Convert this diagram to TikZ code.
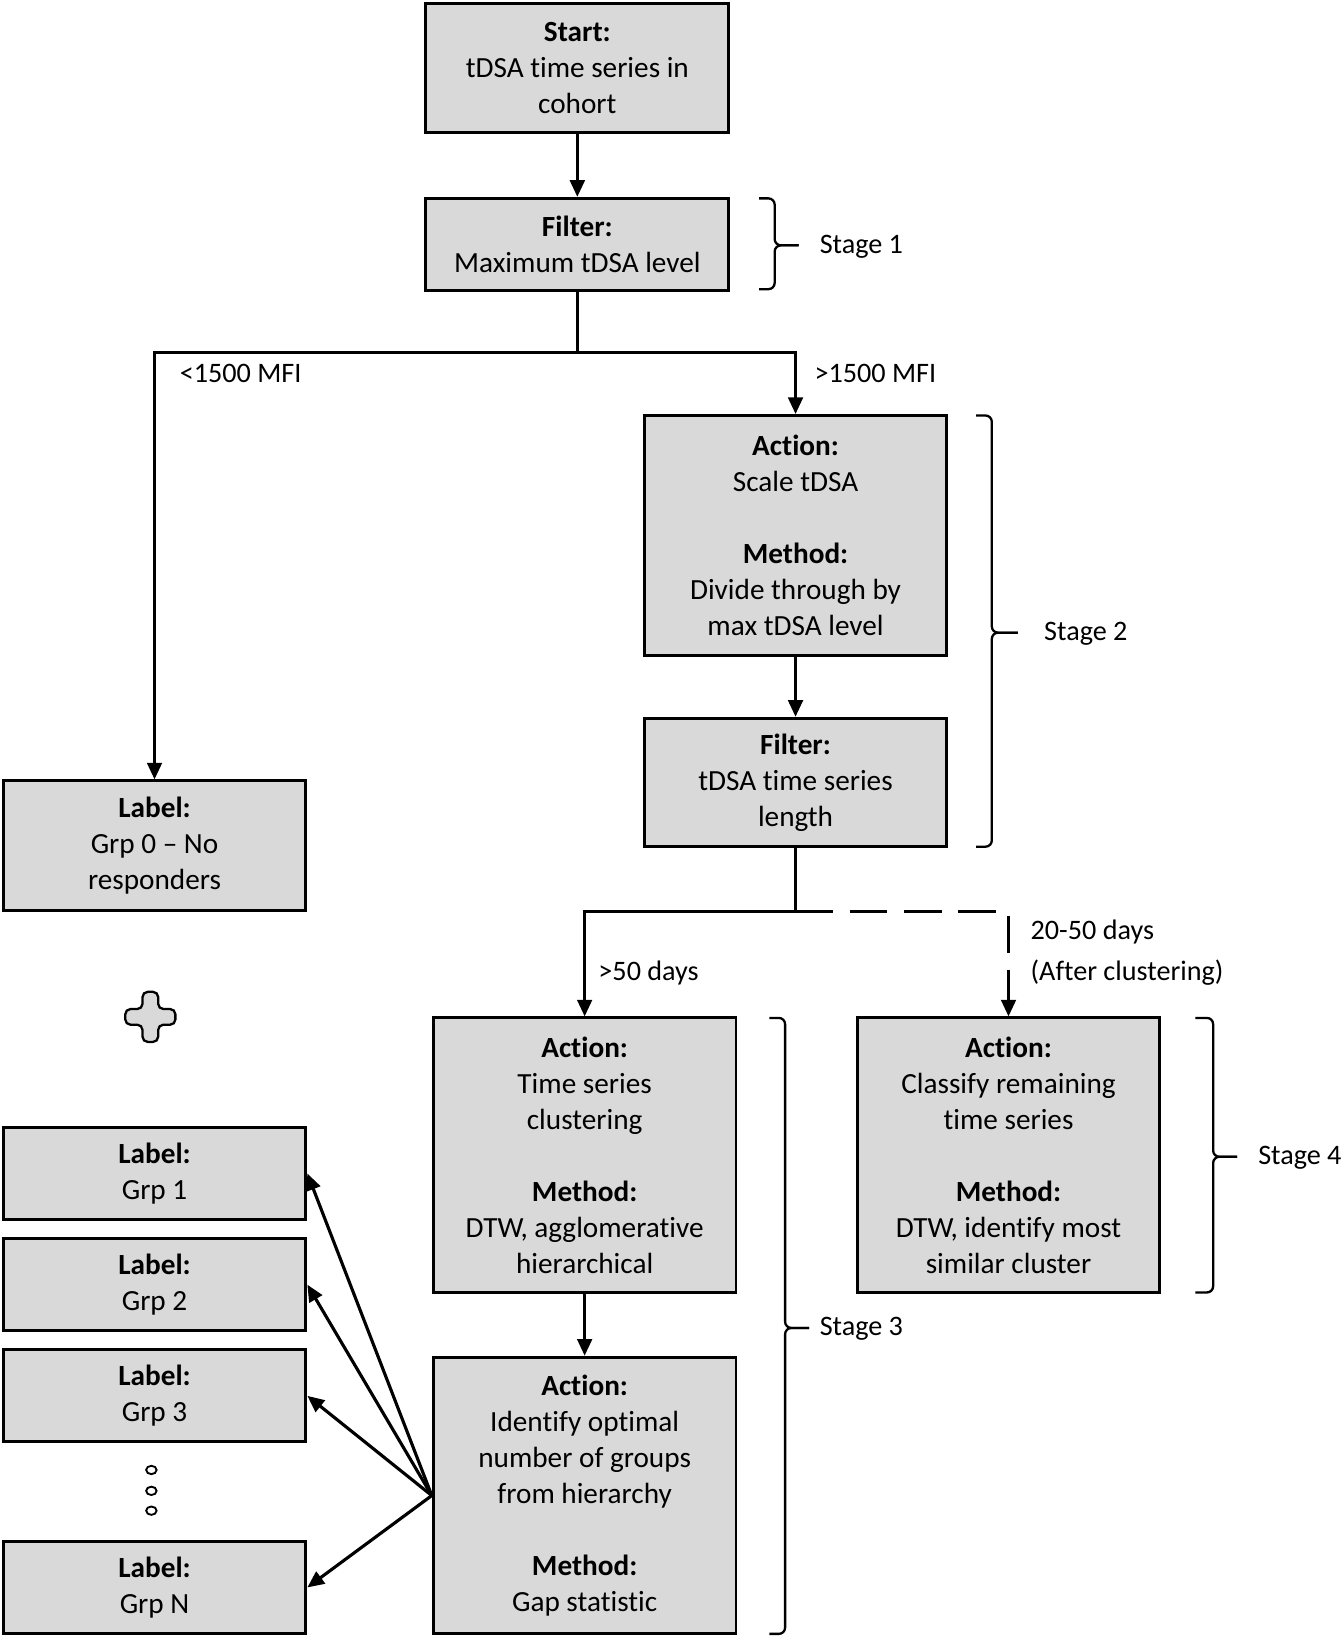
\documentclass[tikz,border=0pt]{standalone}
\usepackage{fontspec}
\setmainfont[Ligatures={TeX,NoCommon}]{Carlito}
\usetikzlibrary{arrows.meta}
\definecolor{boxgray}{HTML}{D9D9D9}
\begin{document}
\begin{tikzpicture}[x=1pt,y=-1pt,
  box/.style={draw=black, line width=2.8pt, fill=boxgray, minimum width=290pt, inner sep=0pt, align=center, font=\fontsize{28}{34.5}\selectfont},
  arr/.style={line width=3pt, -{Triangle[length=16pt,width=14pt]}},
  ln/.style={line width=3pt},
  lbl/.style={anchor=west, inner sep=0pt, font=\fontsize{27}{32}\selectfont},
  stagebrace/.style={line width=2.2pt, rounded corners=6pt}]
\useasboundingbox (0,0) rectangle (1285,1568);

% main boxes
\node[box, minimum height=124pt] (start) at (553,65) {\textbf{Start:}\\tDSA time series in\\cohort};
\node[box, minimum height=88pt] (f1) at (553,234) {\textbf{Filter:}\\Maximum tDSA level};
\node[box, minimum height=230pt] (act) at (762,513) {\textbf{Action:}\\Scale tDSA\\[34.5pt]\textbf{Method:}\\Divide through by\\max tDSA level};
\node[box, minimum height=123pt] (f2) at (762,749.5) {\textbf{Filter:}\\tDSA time series\\length};
\node[box, minimum height=124pt] (g0) at (148,810) {\textbf{Label:}\\Grp 0 -- No\\responders};
\node[box, minimum height=263pt] (clus) at (560,1106.5) {\textbf{Action:}\\Time series\\clustering\\[34.5pt]\textbf{Method:}\\DTW, agglomerative\\hierarchical};
\node[box, minimum height=265pt] (ident) at (560,1432.5) {\textbf{Action:}\\Identify optimal\\number of groups\\from hierarchy\\[34.5pt]\textbf{Method:}\\Gap statistic};
\node[box, minimum height=263pt] (class) at (966,1106.5) {\textbf{Action:}\\Classify remaining\\time series\\[34.5pt]\textbf{Method:}\\DTW, identify most\\similar cluster};
\node[box, minimum height=88pt] (g1) at (148,1124) {\textbf{Label:}\\Grp 1};
\node[box, minimum height=88pt] (g2) at (148,1230.5) {\textbf{Label:}\\Grp 2};
\node[box, minimum height=88pt] (g3) at (148,1337) {\textbf{Label:}\\Grp 3};
\node[box, minimum height=88pt] (gn) at (148,1520.5) {\textbf{Label:}\\Grp N};

% connectors
\coordinate (split1) at (553,338);
\coordinate (split2) at (762,873);
\draw[arr] (start.south) -- (f1.north);
\draw[ln] (f1.south) -- (split1);
\draw[arr] (split1) -| (g0.north);
\draw[arr] (split1) -| (act.north);
\draw[arr] (act.south) -- (f2.north);
\draw[ln] (f2.south) -- (split2);
\draw[arr] (split2) -| (clus.north);
\draw[arr, dash pattern=on 36pt off 16pt] (split2) -| (class.north);
\draw[arr] (clus.south) -- (ident.north);
\draw[arr] (ident.west) -- (g1.east);
\draw[arr] (ident.west) -- (g2.east);
\draw[arr] (ident.west) -- (g3.east);
\draw[arr] (ident.west) -- (gn.east);

% connector labels
\node[lbl] (l1) at (172,358) {<1500 MFI};
\node[lbl] (l2) at (780,358) {>1500 MFI};
\node[lbl] (l3) at (573,932) {>50 days};
\node[lbl] (l4) at (987,893) {20-50 days};
\node[lbl] (l5) at (987,932) {(After clustering)};

% stage braces
\draw[stagebrace] (727,190) -- (742,190) -- (742,235) -- (765,235);
\draw[stagebrace] (727,277) -- (742,277) -- (742,235) -- (765,235);
\node[lbl] (s1) at (785,236) {Stage 1};
\draw[stagebrace] (935,398) -- (950,398) -- (950,606) -- (975,606);
\draw[stagebrace] (935,811) -- (950,811) -- (950,606) -- (975,606);
\node[lbl] (s2) at (1000,607) {Stage 2};
\draw[stagebrace] (737,975) -- (752,975) -- (752,1272) -- (775,1272);
\draw[stagebrace] (737,1565) -- (752,1565) -- (752,1272) -- (775,1272);
\node[lbl] (s3) at (785,1273) {Stage 3};
\draw[stagebrace] (1145,975) -- (1162,975) -- (1162,1108) -- (1185,1108);
\draw[stagebrace] (1145,1238) -- (1162,1238) -- (1162,1108) -- (1185,1108);
\node[lbl] (s4) at (1205,1109) {Stage 4};

% plus sign
\draw[line width=2.2pt, fill=boxgray, rounded corners=5pt, shift={(144,974)}]
  (-7.5,-24) -- (7.5,-24) -- (7.5,-7.5) -- (24,-7.5) -- (24,7.5) -- (7.5,7.5) -- (7.5,24) -- (-7.5,24) -- (-7.5,7.5) -- (-24,7.5) -- (-24,-7.5) -- (-7.5,-7.5) -- cycle;

% dots
\foreach \yy in {1408,1428,1447} \draw[line width=1.8pt] (145,\yy) circle[x radius=5pt, y radius=4pt];
\end{tikzpicture}
\end{document}
